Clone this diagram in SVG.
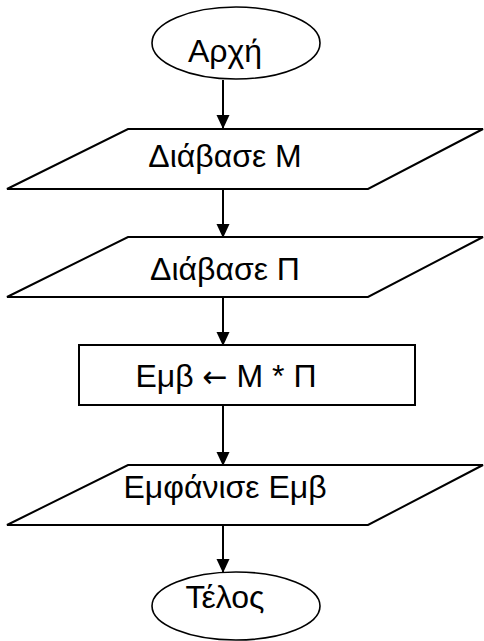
<svg xmlns="http://www.w3.org/2000/svg" width="484" height="641" viewBox="0 0 484 641">
  <style>
    .shape { fill: #fff; stroke: #000; stroke-width: 2; }
    .term { fill: #fff; stroke: #000; stroke-width: 1.6; }
    .label { font-family: "Liberation Sans", Arial, sans-serif; font-size: 32px; fill: #000; text-anchor: middle; }
    .sym { font-family: "DejaVu Sans", sans-serif; font-size: 30px; }
    .flow { stroke: #000; stroke-width: 2; fill: none; marker-end: url(#head); }
  </style>
  <defs>
    <marker id="head" markerWidth="14" markerHeight="15" refX="14" refY="7" orient="auto" markerUnits="userSpaceOnUse" viewBox="0 0 15 14">
      <path d="M0,0 L15,7 L0,14 Z" fill="#000"/>
    </marker>
  </defs>

  <g id="connectors">
    <line class="flow" x1="223" y1="80" x2="223" y2="128"/>
    <line class="flow" x1="223" y1="189" x2="223" y2="237"/>
    <line class="flow" x1="223" y1="297" x2="223" y2="345"/>
    <line class="flow" x1="223" y1="405" x2="223" y2="465"/>
    <line class="flow" x1="223" y1="517" x2="223" y2="572"/>
  </g>

  <g id="start">
    <ellipse class="term" cx="236" cy="43" rx="84" ry="36"/>
    <text class="label" x="225" y="62">Αρχή</text>
  </g>

  <g id="read-m">
    <polygon class="shape" points="128,129 483,129 368,189 7,189"/>
    <text class="label" x="225" y="167">Διάβασε Μ</text>
  </g>

  <g id="read-p">
    <polygon class="shape" points="128,237 483,237 368,297 7,297"/>
    <text class="label" x="225" y="280">Διάβασε Π</text>
  </g>

  <g id="compute">
    <rect class="shape" x="79" y="345" width="336" height="60"/>
    <text class="label" x="226" y="387">Εμβ <tspan class="sym">←</tspan> Μ * Π</text>
  </g>

  <g id="output">
    <polygon class="shape" points="128,465 483,465 368,525 7,525"/>
    <text class="label" x="225" y="498">Εμφάνισε Εμβ</text>
  </g>

  <g id="end">
    <ellipse class="term" cx="236" cy="606" rx="84" ry="34"/>
    <text class="label" x="225" y="608">Τέλος</text>
  </g>
</svg>
